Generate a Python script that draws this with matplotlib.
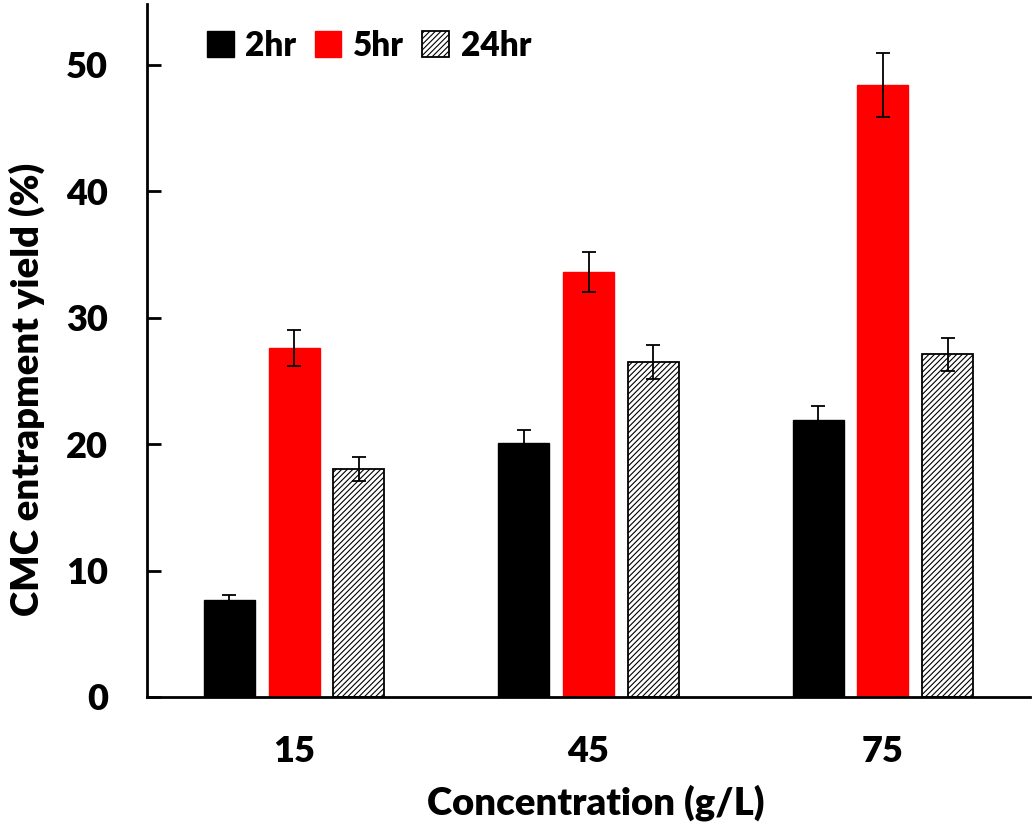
import matplotlib
matplotlib.use("Agg")
import matplotlib.pyplot as plt
import numpy as np

plt.rcParams['font.family'] = ['Lato', 'DejaVu Sans']
plt.rcParams['hatch.linewidth'] = 0.8

categories = ['15', '45', '75']
series_names = ['2hr', '5hr', '24hr']
vals_2hr = [7.7, 20.1, 21.9]
err_2hr = [0.35, 1.05, 1.15]
vals_5hr = [27.6, 33.6, 48.4]
err_5hr = [1.4, 1.6, 2.5]
vals_24hr = [18.0, 26.5, 27.1]
err_24hr = [0.95, 1.35, 1.3]

W = 'heavy'

fig = plt.figure(figsize=(10.34, 8.31), dpi=100)
ax = fig.add_axes([147/1034, 134/831, 883/1034, 827/831 - 134/831])

x = np.arange(len(categories))
w = 0.173
off = 0.22
ekw = dict(elinewidth=1.3, capthick=1.3, capsize=5, ecolor='black')
ax.bar(x - off, vals_2hr, w, color='black', edgecolor='black', yerr=err_2hr, error_kw=ekw, label=series_names[0])
ax.bar(x, vals_5hr, w, color='#ff0000', edgecolor='#ff0000', yerr=err_5hr, error_kw=ekw, label=series_names[1])
ax.bar(x + off, vals_24hr, w, color='white', edgecolor='black', hatch='//////', linewidth=1.3,
       yerr=err_24hr, error_kw=ekw, label=series_names[2])

ax.set_xlim(-0.5, 2.5)
ax.set_ylim(0, 54.8)
ax.set_yticks([0, 10, 20, 30, 40, 50])
ax.set_xticks(x)
ax.set_xticklabels(categories)
ax.tick_params(axis='y', direction='in', length=10, width=2, labelsize=26, pad=28)
ax.tick_params(axis='x', length=0, labelsize=26, pad=27)
for lab in ax.get_xticklabels() + ax.get_yticklabels():
    lab.set_fontweight(W)
for s in ['top', 'right']:
    ax.spines[s].set_visible(False)
for s in ['left', 'bottom']:
    ax.spines[s].set_linewidth(2)

ax.set_xlabel('Concentration (g/L)', fontsize=27.5, fontweight=W, labelpad=12, x=0.508)
ax.set_ylabel('CMC entrapment yield (%)', fontsize=27.5, fontweight=W, labelpad=15, y=0.444)

leg = ax.legend(loc='upper left', bbox_to_anchor=(0.068, 0.963), ncol=3, frameon=False,
                prop={'size': 24, 'weight': W}, handlelength=0.8, handleheight=0.8,
                handletextpad=0.35, columnspacing=0.55, borderaxespad=0, borderpad=0)

fig.savefig('out.png', dpi=100)
